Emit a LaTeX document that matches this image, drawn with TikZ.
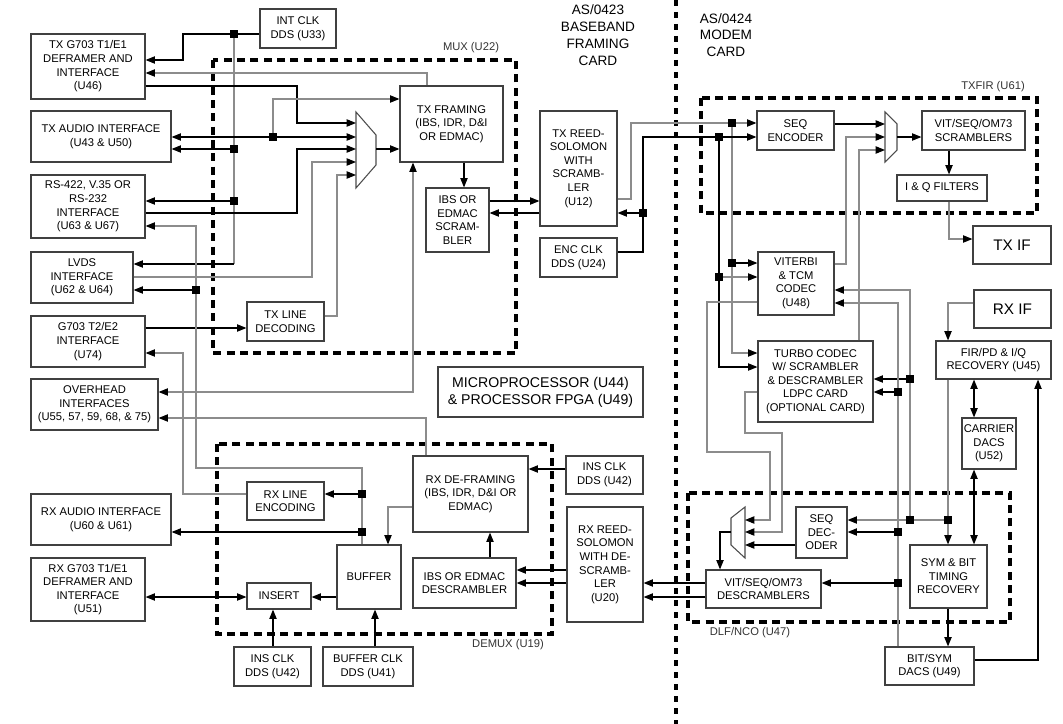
\documentclass[tikz,border=0pt]{standalone}
\usepackage{fontspec}
\setmainfont{Liberation Sans}
\usetikzlibrary{arrows.meta}
% box given by its corner coordinates (in px units of the picture)
\newcommand\bx[7][]{\node[blk,#1,minimum width={(#5-#3)*0.75pt},minimum height={(#6-#4)*0.75pt}] (#2) at ({(#3+#5)/2},{(#4+#6)/2}) {#7};}
\begin{document}
\begin{tikzpicture}[x=0.75pt,y=-0.75pt,
  >={Triangle[length=7pt,width=5.5pt,color=black]},
  blk/.style={draw=black!75,line width=0.9pt,fill=white,align=center,inner sep=1pt,font=\fontsize{8.4}{10.2}\selectfont},
  wire/.style={line width=0.8pt,draw=black},
  gwire/.style={line width=0.8pt,draw=black!45},
  ar/.style={->},
  dar/.style={<->},
  jn/.style={fill=black,rectangle,minimum size=5.5pt,inner sep=0pt},
  grp/.style={draw=black,line width=2.6pt,dash pattern=on 6pt off 4pt},
  sep/.style={draw=black,line width=3pt,dash pattern=on 4.5pt off 4.5pt},
  muxs/.style={draw=black!70,line width=0.8pt,fill=white},
  lbl/.style={font=\fontsize{8.4}{10}\selectfont,text=black!80,inner sep=0pt},
  ttl/.style={font=\fontsize{10.2}{12.6}\selectfont,align=center,inner sep=0pt},
  big/.style={font=\fontsize{10.6}{12.6}\selectfont},
  ifbox/.style={font=\fontsize{11.5}{13}\selectfont},
]
\useasboundingbox (0,0) rectangle (1063,724);

% ---------- group outlines and card boundary ----------
\draw[grp] (213,60) rectangle (516,353);
\draw[grp] (217,444) rectangle (552,634);
\draw[grp] (701,98) rectangle (1037,213);
\draw[grp] (688,493) rectangle (1010,622);
\draw[sep] (676,0) -- (676,724);

% ---------- blocks ----------
\bx{txg}{31}{34}{145}{99}{TX G703 T1/E1\\DEFRAMER AND\\INTERFACE\\(U46)}
\bx{intclk}{260}{9}{336}{48}{INT CLK\\DDS (U33)}
\bx{txa}{31}{111}{171}{162}{TX AUDIO INTERFACE\\(U43 \& U50)}
\bx{rs}{31}{175}{145}{238}{RS-422, V.35 OR\\RS-232\\INTERFACE\\(U63 \& U67)}
\bx{lvds}{31}{252}{133}{303}{LVDS\\INTERFACE\\(U62 \& U64)}
\bx{t2}{31}{316}{145}{367}{G703 T2/E2\\INTERFACE\\(U74)}
\bx{ovh}{31}{379}{158}{430}{OVERHEAD\\INTERFACES\\(U55, 57, 59, 68, \& 75)}
\bx{rxa}{31}{494}{171}{545}{RX AUDIO INTERFACE\\(U60 \& U61)}
\bx{rxg}{31}{558}{145}{621}{RX G703 T1/E1\\DEFRAMER AND\\INTERFACE\\(U51)}
\bx{txfr}{400}{86}{503}{162}{TX FRAMING\\(IBS, IDR, D\&I\\OR EDMAC)}
\bx{scr}{426}{188}{489}{252}{IBS OR\\EDMAC\\SCRAM-\\BLER}
\bx{txld}{247}{302}{324}{341}{TX LINE\\DECODING}
\bx{txrs}{540}{111}{617}{226}{TX REED-\\SOLOMON\\WITH\\SCRAMB-\\LER\\(U12)}
\bx{encclk}{540}{238}{617}{277}{ENC CLK\\DDS (U24)}
\bx[big]{mp}{438}{367}{643}{417}{MICROPROCESSOR (U44)\\\& PROCESSOR FPGA (U49)}
\bx{seqenc}{757}{111}{834}{150}{SEQ\\ENCODER}
\bx{vits}{922}{111}{1025}{150}{VIT/SEQ/OM73\\SCRAMBLERS}
\bx{iqf}{897}{175}{987}{201}{I \& Q FILTERS}
\bx[ifbox]{txif}{973}{226}{1051}{264}{TX IF}
\bx{vit}{758}{252}{834}{315}{VITERBI\\\& TCM\\CODEC\\(U48)}
\bx{turbo}{758}{341}{873}{422}{TURBO CODEC\\W/ SCRAMBLER\\\& DESCRAMBLER\\LDPC CARD\\(OPTIONAL CARD)}
\bx[ifbox]{rxif}{974}{290}{1051}{328}{RX IF}
\bx{fir}{936}{341}{1051}{379}{FIR/PD \& I/Q\\RECOVERY (U45)}
\bx{car}{962}{418}{1016}{469}{CARRIER\\DACS\\(U52)}
\bx{seqdec}{796}{507}{847}{558}{SEQ\\DEC-\\ODER}
\bx{vitd}{706}{570}{821}{608}{VIT/SEQ/OM73\\DESCRAMBLERS}
\bx{sym}{910}{545}{987}{608}{SYM \& BIT\\TIMING\\RECOVERY}
\bx{bsd}{885}{647}{974}{685}{BIT/SYM\\DACS (U49)}
\bx{rxrs}{567}{507}{643}{622}{RX REED-\\SOLOMON\\WITH DE-\\SCRAMB-\\LER\\(U20)}
\bx{desc}{413}{558}{516}{608}{IBS OR EDMAC\\DESCRAMBLER}
\bx{rxdf}{413}{456}{528}{532}{RX DE-FRAMING\\(IBS, IDR, D\&I OR\\EDMAC)}
\bx{insclka}{566}{456}{643}{494}{INS CLK\\DDS (U42)}
\bx{buf}{337}{545}{401}{609}{BUFFER}
\bx{ins}{247}{583}{311}{609}{INSERT}
\bx{insclkb}{234}{647}{311}{686}{INS CLK\\DDS (U42)}
\bx{bufclk}{323}{647}{413}{686}{BUFFER CLK\\DDS (U41)}
\bx{rxle}{247}{482}{324}{520}{RX LINE\\ENCODING}

% ---------- multiplexers ----------
\draw[muxs] (356,112) -- (376,135) -- (376,165) -- (356,188) -- cycle;
\draw[muxs] (885,112) -- (897,124) -- (897,150) -- (885,162) -- cycle;
\draw[muxs] (745,507) -- (731,518) -- (731,545) -- (745,558) -- cycle;
\coordinate (ma1) at (356,123); \coordinate (ma2) at (356,137);
\coordinate (ma3) at (356,149); \coordinate (ma4) at (356,162);
\coordinate (ma5) at (356,175); \coordinate (mao) at (376,149);
\coordinate (mb1) at (885,124); \coordinate (mb2) at (885,137);
\coordinate (mb3) at (885,150); \coordinate (mbo) at (897,137);
\coordinate (mc1) at (745,520); \coordinate (mc2) at (745,532);
\coordinate (mc3) at (745,545); \coordinate (mco) at (731,532);

% ---------- junction points ----------
\coordinate (j1) at (234,34);  \coordinate (j2) at (234,149);
\coordinate (j3) at (234,201); \coordinate (j4) at (273,137);
\coordinate (j5) at (196,290); \coordinate (j6) at (362,494);
\coordinate (j7) at (362,532); \coordinate (j8) at (643,213);
\coordinate (j9) at (732,123); \coordinate (j10) at (719,137);
\coordinate (j11) at (732,263); \coordinate (j12) at (719,277);
\coordinate (j13) at (910,379); \coordinate (j14) at (898,392);
\coordinate (j15) at (910,520); \coordinate (j16) at (948,520);
\coordinate (j17) at (898,532); \coordinate (j18) at (898,583);

% ---------- transmit side, baseband card ----------
\draw[wire,ar] (intclk.west |- j1) -- (183,34) -- (183,60) -- (txg.east |- 0,60);
\draw[gwire] (j1) -- (234,264);
\draw[wire,ar] (234,264) -- (lvds.east |- 0,264);
\draw[wire,ar] (j2) -- (txa.east |- j2);
\draw[wire,ar] (j3) -- (rs.east |- j3);
\draw[gwire,ar] (427,0 |- txfr.north) -- (427,73) -- (txg.east |- 0,73);
\draw[wire,ar] (txg.east |- 0,86) -- (297,86) -- (297,123) -- (ma1);
\draw[wire,dar] (txa.east |- j4) -- (ma2);
\draw[gwire,ar] (j4) -- (273,99) -- (txfr.west |- 0,99);
\draw[wire,ar] (rs.east |- 0,213) -- (297,213) -- (297,149) -- (ma3);
\draw[gwire,ar] (lvds.east |- 0,277) -- (312,277) -- (312,162) -- (ma4);
\draw[gwire,ar] (txld.east |- 0,316) -- (337,316) -- (337,175) -- (ma5);
\draw[wire,ar] (t2.east |- 0,328) -- (txld.west |- 0,328);
\draw[wire,ar] (mao) -- (txfr.west |- mao);
\draw[wire,ar] (464,0 |- txfr.south) -- (464,0 |- scr.north);
\draw[wire,ar] (scr.east |- 0,201) -- (txrs.west |- 0,201);
\draw[wire,ar] (txrs.west |- 0,213) -- (scr.east |- 0,213);
\draw[gwire,dar] (ovh.east |- 0,392) -- (413,392) -- (413,0 |- txfr.south);

% ---------- receive side, baseband card ----------
\draw[gwire,ar] (426,0 |- rxdf.north) -- (426,418) -- (ovh.east |- 0,418);
\draw[gwire,ar] (362,0 |- buf.north) -- (362,468) -- (196,468) -- (196,226) -- (rs.east |- 0,226);
\draw[wire,ar] (j5) -- (lvds.east |- j5);
\draw[wire,ar] (j6) -- (rxle.east |- j6);
\draw[wire,ar] (j7) -- (rxa.east |- j7);
\draw[gwire,ar] (rxle.west |- 0,494) -- (183,494) -- (183,353) -- (t2.east |- 0,353);
\draw[gwire,ar] (rxdf.west |- 0,507) -- (388,507) -- (388,0 |- buf.north);
\draw[wire,ar] (buf.west |- 0,597) -- (ins.east |- 0,597);
\draw[wire,dar] (rxg.east |- 0,597) -- (ins.west |- 0,597);
\draw[wire,ar] (273,0 |- insclkb.north) -- (273,0 |- ins.south);
\draw[wire,ar] (375,0 |- bufclk.north) -- (375,0 |- buf.south);
\draw[wire,ar] (insclka.west |- 0,469) -- (rxdf.east |- 0,469);
\draw[wire,ar] (490,0 |- desc.north) -- (490,0 |- rxdf.south);
\draw[wire,ar] (rxrs.west |- 0,570) -- (desc.east |- 0,570);
\draw[wire,ar] (rxrs.west |- 0,583) -- (desc.east |- 0,583);
\draw[wire,ar] (vitd.west |- 0,583) -- (rxrs.east |- 0,583);
\draw[wire,ar] (vitd.west |- 0,597) -- (rxrs.east |- 0,597);

% ---------- modem card, transmit ----------
\draw[gwire,ar] (txrs.east |- 0,199) -- (631,199) -- (631,123) -- (seqenc.west |- 0,123);
\draw[gwire,ar] (j9) -- (732,353) -- (turbo.west |- 0,353);
\draw[wire,ar] (j11) -- (vit.west |- j11);
\draw[wire,ar] (encclk.east |- 0,252) -- (643,252) -- (643,137) -- (seqenc.west |- 0,137);
\draw[wire,ar] (j8) -- (txrs.east |- j8);
\draw[wire,ar] (j10) -- (719,367) -- (turbo.west |- 0,367);
\draw[gwire,ar] (j12) -- (vit.west |- j12);
\draw[wire,ar] (seqenc.east |- mb1) -- (mb1);
\draw[gwire,ar] (vit.east |- 0,264) -- (846,264) -- (846,137) -- (mb2);
\draw[gwire,ar] (859,0 |- turbo.north) -- (859,150) -- (mb3);
\draw[wire,ar] (mbo) -- (vits.west |- mbo);
\draw[wire,ar] (949,0 |- vits.south) -- (949,0 |- iqf.north);
\draw[gwire,ar] (949,0 |- iqf.south) -- (949,239) -- (txif.west |- 0,239);

% ---------- modem card, receive ----------
\draw[gwire,ar] (rxif.west |- 0,303) -- (948,303) -- (948,0 |- fir.north);
\draw[wire,dar] (974,0 |- fir.south) -- (974,0 |- car.north);
\draw[wire,dar] (974,0 |- car.south) -- (974,0 |- sym.north);
\draw[gwire,ar] (948,0 |- fir.south) -- (948,0 |- sym.north);
\draw[gwire,ar] (j16) -- (seqdec.east |- j16);
\draw[gwire,ar] (j15) -- (910,290) -- (vit.east |- 0,290);
\draw[wire,ar] (j13) -- (turbo.east |- j13);
\draw[gwire,ar] (898,0 |- bsd.north) -- (898,303) -- (vit.east |- 0,303);
\draw[wire,ar] (j14) -- (turbo.east |- j14);
\draw[wire,ar] (j17) -- (seqdec.east |- j17);
\draw[wire,ar] (j18) -- (vitd.east |- j18);
\draw[wire,ar] (948,0 |- sym.south) -- (948,0 |- bsd.north);
\draw[wire,ar] (bsd.east |- 0,660) -- (1038,660) -- (1038,0 |- fir.south);
\draw[gwire,ar] (vit.west |- 0,302) -- (707,302) -- (707,452) -- (770,452) -- (770,520) -- (mc1);
\draw[gwire,ar] (turbo.west |- 0,392) -- (745,392) -- (745,433) -- (782,433) -- (782,532) -- (mc2);
\draw[wire,ar] (seqdec.west |- mc3) -- (mc3);
\draw[wire,ar] (mco) -- (720,532) -- (720,0 |- vitd.north);

% ---------- junction dots ----------
\foreach \j in {1,...,18} { \node[jn] (J\j) at (j\j) {}; }

% ---------- labels ----------
\node[lbl] (lmux) at (471,48) {MUX (U22)};
\node[lbl] (ldemux) at (508,645) {DEMUX (U19)};
\node[lbl] (ltxfir) at (993,87) {TXFIR (U61)};
\node[lbl] (ldlf) at (750,633) {DLF/NCO (U47)};
\node[ttl] (cardA) at (598,35) {AS/0423\\BASEBAND\\FRAMING\\CARD};
\node[ttl] (cardB) at (726,35) {AS/0424\\MODEM\\CARD};
\end{tikzpicture}
\end{document}
